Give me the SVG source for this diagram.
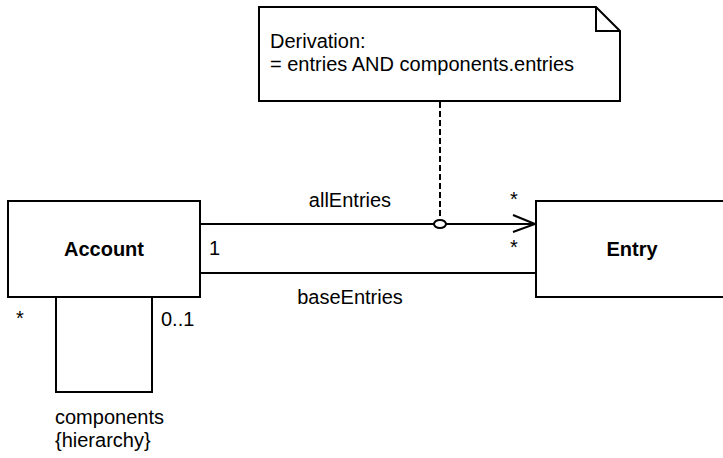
<svg xmlns="http://www.w3.org/2000/svg" width="723" height="458" viewBox="0 0 723 458">
<style>
.box{fill:#fff;stroke:#000;stroke-width:2}
.ln{fill:none;stroke:#000;stroke-width:2}
.t{font-family:"Liberation Sans",Arial,sans-serif;font-size:20px;fill:#000}
.b{font-weight:bold;text-anchor:middle}
</style>
<rect width="723" height="458" fill="#fff"/>
<g id="connectors">
<line class="ln" x1="200" y1="224" x2="536" y2="224"/>
<polyline class="ln" points="513,215 535,224 513,232"/>
<line class="ln" x1="200" y1="273" x2="536" y2="273"/>
<polyline class="ln" points="56,297 56,392 152,392 152,297"/>
<line x1="440" y1="102" x2="440" y2="219" stroke="#000" stroke-width="2" stroke-dasharray="6,3"/>
<ellipse cx="440" cy="224" rx="6" ry="4" fill="#fff" stroke="#000" stroke-width="2"/>
<text class="t" x="350" y="207" text-anchor="middle">allEntries</text>
<text class="t" x="350" y="304" text-anchor="middle">baseEntries</text>
<text class="t" x="209" y="255">1</text>
<text class="t" x="510" y="206">*</text>
<text class="t" x="510" y="254">*</text>
<text class="t" x="16" y="325">*</text>
<text class="t" x="161" y="326">0..1</text>
<text class="t" x="55" y="424">components</text>
<text class="t" x="55" y="447">{hierarchy}</text>
</g>
<g id="note">
<path class="box" d="M259,7 H596 L620,31 V101 H259 Z"/>
<polyline class="ln" points="596,7 596,31 620,31"/>
<text class="t" x="270" y="48">Derivation:</text>
<text class="t" x="270" y="71">= entries AND components.entries</text>
</g>
<g id="account">
<rect class="box" x="8" y="201" width="192" height="96"/>
<text class="t b" x="104" y="256">Account</text>
</g>
<g id="entry">
<rect class="box" x="536" y="201" width="200" height="96"/>
<text class="t b" x="632" y="256">Entry</text>
</g>
</svg>
